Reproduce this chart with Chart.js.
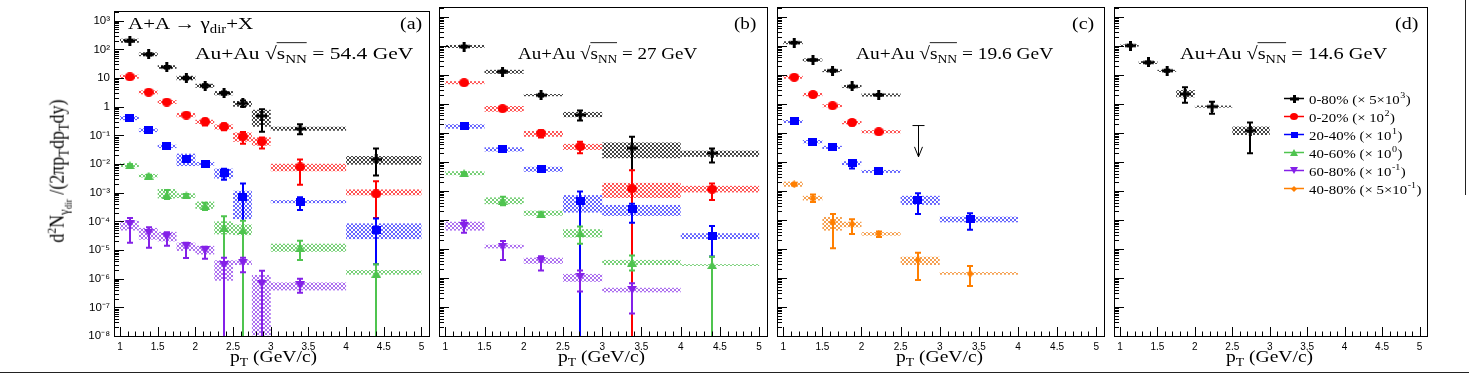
<!DOCTYPE html>
<html>
<head>
<meta charset="utf-8">
<script src="https://cdn.jsdelivr.net/npm/chart.js@4.4.1/dist/chart.umd.min.js"></script>
<style>
  html, body { margin: 0; padding: 0; background: #fff; }
  #page { position: relative; width: 1469px; height: 375px; overflow: hidden;
          font-family: "Liberation Serif", "Times New Roman", serif; color: #000; }
  canvas { position: absolute; top: 0; }
  .txt { position: absolute; white-space: nowrap; font-size: 20px; line-height: 20px;
         transform-origin: 0 16.75px; }
  .sub { font-size: 14px; position: relative; top: 5px; }
  .sub2 { font-size: 10px; position: relative; top: 3px; }
  .sup { font-size: 13px; position: relative; top: -8px; }
  .ov { border-top: 1px solid #000; }
  .ytitle { transform-origin: 50% 50%; }
  .rule { position: absolute; background: #222; }
</style>
</head>
<body>
<div id="page">
  <canvas id="chartA"></canvas>
  <canvas id="chartB"></canvas>
  <canvas id="chartC"></canvas>
  <canvas id="chartD"></canvas>

  <div class="txt" data-x="128" data-w="125" style="top:12px">A+A → γ<span class="sub">dir</span>+X</div>
  <div class="txt" data-x="400" data-w="22" style="top:12px">(a)</div>
  <div class="txt" data-x="734" data-w="22" style="top:12px">(b)</div>
  <div class="txt" data-x="1072" data-w="22" style="top:12px">(c)</div>
  <div class="txt" data-x="1395" data-w="23" style="top:12px">(d)</div>

  <div class="txt" data-x="195" data-w="218" style="top:42px">Au+Au √<span class="ov">s<span class="sub">NN</span></span> = 54.4 GeV</div>
  <div class="txt" data-x="518" data-w="179" style="top:42px">Au+Au √<span class="ov">s<span class="sub">NN</span></span> = 27 GeV</div>
  <div class="txt" data-x="856" data-w="197" style="top:42px">Au+Au √<span class="ov">s<span class="sub">NN</span></span> = 19.6 GeV</div>
  <div class="txt" data-x="1180" data-w="207" style="top:42px">Au+Au √<span class="ov">s<span class="sub">NN</span></span> = 14.6 GeV</div>

  <div class="txt" data-cx="273.5" data-w="87" style="top:345px">p<span class="sub">T</span> (GeV/c)</div>
  <div class="txt" data-cx="601" data-w="87" style="top:345px">p<span class="sub">T</span> (GeV/c)</div>
  <div class="txt" data-cx="939" data-w="87" style="top:345px">p<span class="sub">T</span> (GeV/c)</div>
  <div class="txt" data-cx="1269.5" data-w="87" style="top:345px">p<span class="sub">T</span> (GeV/c)</div>

  <div class="txt ytitle" id="ytitle">d<span class="sup">2</span>N<span class="sub">γ<span class="sub2">dir</span></span> /(2πp<span class="sub">T</span>dp<span class="sub">T</span>dy)</div>

  <div class="rule" style="left:0; top:372px; width:1469px; height:1px"></div>
  <div class="rule" style="left:1465px; top:0; width:1px; height:195px"></div>
</div>

<script>
/* --- 1. DATA --- */

// axes
const xTickValues = [1, 1.5, 2, 2.5, 3, 3.5, 4, 4.5, 5];
const xTickLabels = ["1", "1.5", "2", "2.5", "3", "3.5", "4", "4.5", "5"];
const yTickValues = [1e-8, 1e-7, 1e-6, 1e-5, 1e-4, 1e-3, 1e-2, 1e-1, 1, 10, 100, 1000];
const yTickLabels = ["10⁻⁸", "10⁻⁷", "10⁻⁶", "10⁻⁵", "10⁻⁴", "10⁻³", "10⁻²", "10⁻¹", "1", "10", "10²", "10³"];

const OFF = 1e-9; // error bar running below the frame

// (a) 54.4 GeV
const edgesA = [1, 1.25, 1.5, 1.75, 2, 2.25, 2.5, 2.75, 3, 4, 5];
const ptA = [1.13, 1.38, 1.62, 1.88, 2.13, 2.38, 2.63, 2.88, 3.39, 4.4];
const a080 = [200, 67, 24, 10, 5.4, 3.0, 1.3, 0.48, 0.17, 0.0144];
const a080Stat = [[185, 215], [61, 73], [21.5, 26.5], [9, 11.2], [4.7, 6.1], [2.6, 3.4], [1.0, 1.65], [0.135, 0.81], [0.11, 0.245], [0.004, 0.035]];
const a080Sys = [[170, 235], [58, 78], [21, 28], [8.3, 12], [4.6, 6.3], [2.5, 3.5], [1.0, 1.58], [0.2, 0.78], [0.145, 0.2], [0.0095, 0.019]];
const a020 = [11, 3.2, 1.45, 0.51, 0.30, 0.20, 0.09, 0.06, 0.0079, 9e-4];
const a020Stat = [[10, 12], [2.9, 3.5], [1.3, 1.6], [0.46, 0.57], [0.22, 0.38], [0.15, 0.26], [0.051, 0.13], [0.035, 0.085], [0.0019, 0.0145], [1.3e-4, 2.5e-3]];
const a020Sys = [[9.5, 13], [2.7, 3.7], [1.25, 1.7], [0.43, 0.6], [0.25, 0.35], [0.16, 0.24], [0.06, 0.126], [0.044, 0.085], [0.0056, 0.0102], [8.1e-4, 1.3e-3]];
const a2040 = [0.40, 0.15, 0.041, 0.015, 0.0102, 0.0047, 6.8e-4, null, 4.9e-4, 5.1e-5];
const a2040Stat = [[0.37, 0.43], [0.135, 0.165], [0.037, 0.045], [0.012, 0.018], [0.008, 0.0125], [0.0028, 0.0068], [OFF, 2.1e-3], null, [2.5e-4, 7e-4], [3.2e-6, 1.26e-4]];
const a2040Sys = [[0.34, 0.47], [0.13, 0.175], [0.036, 0.047], [0.0085, 0.023], [0.0088, 0.0118], [0.0031, 0.0069], [1.2e-4, 1.17e-3], null, [4.3e-4, 5.5e-4], [2.4e-5, 8.5e-5]];
const a4060 = [0.0091, 0.0039, 8.3e-4, 8e-4, 3.5e-4, 5.9e-5, 4.9e-5, null, 1.2e-5, 1.5e-6];
const a4060Stat = [[0.0084, 0.0098], [0.0036, 0.0042], [6e-4, 1.25e-3], [7e-4, 9e-4], [2.5e-4, 4.5e-4], [OFF, 1.5e-4], [OFF, 1.05e-4], null, [4.5e-6, 2.1e-5], [OFF, 3.2e-6]];
const a4060Sys = [[0.0078, 0.0106], [0.0034, 0.0045], [6.3e-4, 1.35e-3], [6.5e-4, 9.5e-4], [2.75e-4, 4.9e-4], [3.5e-5, 1e-4], [3.3e-5, 7.8e-5], null, [8.7e-6, 1.66e-5], [1.38e-6, 2e-6]];
const a6080 = [8.1e-5, 4e-5, 2.9e-5, 1.35e-5, 9.8e-6, 3e-6, 3.6e-6, 6.6e-7, 5.8e-7, null];
const a6080Stat = [[1.8e-5, 1.3e-4], [1.2e-5, 6.2e-5], [1.4e-5, 4.2e-5], [5.3e-6, 1.8e-5], [5e-6, 1.3e-5], [OFF, 5.4e-6], [1.66e-6, 5.4e-6], [OFF, 1.9e-6], [3.2e-7, 1e-6], null];
const a6080Sys = [[4.8e-5, 1.05e-4], [2.3e-5, 5.9e-5], [2e-5, 4.3e-5], [9.3e-6, 1.8e-5], [7e-6, 1.4e-5], [8.5e-7, 4.4e-6], [3e-6, 4.3e-6], [1.05e-8, 1.35e-6], [3.9e-7, 7.4e-7], null];

// (b) 27 GeV
const edgesB = [1, 1.5, 2, 2.5, 3, 4, 5];
const ptB = [1.24, 1.73, 2.22, 2.72, 3.38, 4.4];
const b080 = [95, 13, 2.0, 0.42, 0.030, 0.020];
const b080Stat = [[88, 102], [11.8, 14.3], [1.8, 2.25], [0.27, 0.6], [OFF, 0.074], [0.0095, 0.029]];
const b080Sys = [[85, 108], [11, 15], [1.85, 2.2], [0.35, 0.53], [0.0135, 0.047], [0.015, 0.0245]];
const b020 = [5.4, 0.69, 0.098, 0.034, 1.2e-3, 1.15e-3];
const b020Stat = [[5.0, 5.8], [0.64, 0.74], [0.07, 0.125], [0.02, 0.05], [OFF, 5.2e-3], [4.9e-4, 1.8e-3]];
const b020Sys = [[4.8, 6.1], [0.54, 0.85], [0.074, 0.117], [0.026, 0.042], [5.75e-4, 1.9e-3], [8.9e-4, 1.5e-3]];
const b2040 = [0.17, 0.027, 0.0056, 4.6e-4, 2.4e-4, 2.8e-5];
const b2040Stat = [[0.16, 0.18], [0.025, 0.029], [0.005, 0.0062], [OFF, 9.5e-4], [8.1e-5, 3.6e-4], [5.5e-6, 6.2e-5]];
const b2040Sys = [[0.14, 0.2], [0.023, 0.032], [0.0046, 0.0068], [1.8e-4, 7.2e-4], [1.38e-4, 3.3e-4], [2.2e-5, 3.5e-5]];
const b4060 = [0.0041, 4.6e-4, 1.6e-4, 3.5e-5, 3.4e-6, 2.8e-6];
const b4060Stat = [[0.0038, 0.0044], [3.2e-4, 6.3e-4], [1.4e-4, 1.85e-4], [1.5e-5, 6e-5], [1.8e-6, 6e-6], [OFF, 5.4e-6]];
const b4060Sys = [[0.0035, 0.0048], [3.5e-4, 6e-4], [1.4e-4, 2.1e-4], [2.5e-5, 4.8e-5], [2.8e-6, 4.2e-6], [2.6e-6, 3e-6]];
const b6080 = [6.2e-5, 1.2e-5, 4e-6, 1.1e-6, 3.9e-7, null];
const b6080Stat = [[3.6e-5, 9.5e-5], [4.2e-6, 1.9e-5], [1.8e-6, 5.6e-6], [3.4e-7, 1.8e-6], [6e-8, 6.6e-7], null];
const b6080Sys = [[4.3e-5, 8.7e-5], [1.05e-5, 1.4e-5], [3.1e-6, 5e-6], [7.4e-7, 1.38e-6], [3.2e-7, 4.6e-7], null];

// (c) 19.6 GeV
const edgesC = [1, 1.25, 1.5, 1.75, 2, 2.5, 3, 4];
const ptC = [1.14, 1.38, 1.63, 1.88, 2.22, 2.72, 3.39];
const c080 = [130, 33, 14, 4.0, 2.05, null, null];
const c080Stat = [[122, 138], [31, 35], [13, 15], [3.7, 4.3], [1.9, 2.2], null, null];
const c080Sys = [[115, 145], [29, 37], [12.5, 15.5], [3.6, 4.5], [1.8, 2.3], null, null];
const c020 = [8.3, 2.1, 0.87, 0.23, 0.11, null, null];
const c020Stat = [[7.8, 8.8], [1.95, 2.25], [0.8, 0.95], [0.18, 0.28], [0.1, 0.12], null, null];
const c020Sys = [[7.4, 9.3], [1.85, 2.4], [0.77, 0.98], [0.2, 0.26], [0.097, 0.125], null, null];
const c2040 = [0.25, 0.050, 0.032, 0.0091, 0.0047, 4.9e-4, 1.05e-4];
const c2040Stat = [[0.235, 0.265], [0.046, 0.054], [0.03, 0.034], [0.006, 0.011], [0.0044, 0.005], [1.6e-4, 8.3e-4], [4.6e-5, 1.7e-4]];
const c2040Sys = [[0.22, 0.28], [0.044, 0.057], [0.028, 0.036], [0.0078, 0.0106], [0.0042, 0.0053], [3.3e-4, 6.8e-4], [8.3e-5, 1.3e-4]];
const c4080 = [1.7e-3, 5.6e-4, 8.3e-5, 7.2e-5, 3.3e-5, 4.2e-6, 1.4e-6];
const c4080Stat = [[1.55e-3, 1.85e-3], [4.2e-4, 7.5e-4], [1.05e-5, 1.6e-4], [3.3e-5, 1.05e-4], [2.6e-5, 4e-5], [8.5e-7, 7.4e-6], [5.3e-7, 2.6e-6]];
const c4080Sys = [[1.4e-3, 2.1e-3], [4.7e-4, 6.8e-4], [4.3e-5, 1.27e-4], [5.6e-5, 8.7e-5], [2.9e-5, 3.8e-5], [2.8e-6, 5.4e-6], [1.3e-6, 1.6e-6]];
// 0-80% upper limit
const cLimitPt = [2.72];
const cLimitTop = [0.18];
const cLimitTip = [0.015];

// (d) 14.6 GeV
const edgesD = [1, 1.25, 1.5, 1.75, 2, 2.5, 3];
const ptD = [1.14, 1.38, 1.63, 1.87, 2.23, 2.74];
const d080 = [103, 27, 14, 2.2, 0.81, 0.12];
const d080Stat = [[97, 110], [25, 29], [13, 15], [1.1, 3.8], [0.46, 1.2], [0.02, 0.23]];
const d080Sys = [[95, 112], [24, 30], [12.8, 15], [1.7, 3.0], [0.75, 0.88], [0.085, 0.166]];

// legend
const legendKeys = ["c080", "c020", "c2040", "c4060", "c6080", "c4080"];
const legendNames = ["0-80%", "0-20%", "20-40%", "40-60%", "60-80%", "40-80%"];
const legendFactor = ["5×10", "10", "10", "10", "10", "5×10"];
const legendExp = ["3", "2", "1", "0", "-1", "-1"];

/* --- 2. LAYOUT AND STYLE --- */

const X_MIN = 0.92, X_MAX = 5.1;
const Y_MIN = 1e-8, Y_MAX = 2200;
const FRAME_TOP = 7, FRAME_BOTTOM = 336, PAGE_H = 375, PAD_R = 2;
const SQUASH = 0.88; // the figure is slightly flattened vertically

Chart.defaults.font.family = "'Liberation Sans', Arial, sans-serif";
Chart.defaults.color = "#000";

function makeMarker(shape, color, w, h) {
    const c = document.createElement("canvas");
    c.width = w;
    c.height = h;
    const g = c.getContext("2d");
    g.fillStyle = color;
    g.beginPath();
    if (shape === "cross") {
        const t = 3;
        g.rect(0, (h - t) / 2, w, t);
        g.rect((w - t) / 2, 0, t, h);
    } else if (shape === "circle") {
        g.ellipse(w / 2, h / 2, w / 2, h / 2, 0, 0, Math.PI * 2);
    } else if (shape === "square") {
        g.rect(0, 0, w, h);
    } else if (shape === "triUp") {
        g.moveTo(w / 2, 0); g.lineTo(w, h); g.lineTo(0, h);
    } else if (shape === "triDown") {
        g.moveTo(0, 0); g.lineTo(w, 0); g.lineTo(w / 2, h);
    } else if (shape === "diamond") {
        g.moveTo(w / 2, 0); g.lineTo(w, h / 2); g.lineTo(w / 2, h); g.lineTo(0, h / 2);
    }
    g.closePath();
    g.fill();
    return c;
}

// ROOT-like cross hatch
function makeHatch(color) {
    const c = document.createElement("canvas");
    c.width = 4;
    c.height = 4;
    const g = c.getContext("2d");
    g.fillStyle = color;
    for (let i = 0; i < 4; i++) {
        g.fillRect(i, i, 1, 1);
        g.fillRect(3 - i, i, 1, 1);
    }
    return c;
}

const STYLE = {
    c080:  { color: "#000000", hatch: "#444444", shape: "cross",   size: [11, 10], lsize: [9, 8] },
    c020:  { color: "#ff0000", hatch: "#ff5555", shape: "circle",  size: [10, 9],  lsize: [8, 7] },
    c2040: { color: "#0000ff", hatch: "#6666ff", shape: "square",  size: [9, 8],   lsize: [7, 6] },
    c4060: { color: "#4fc44f", hatch: "#77d077", shape: "triUp",   size: [10, 8],  lsize: [8, 7] },
    c6080: { color: "#8420e8", hatch: "#ad70f0", shape: "triDown", size: [10, 8],  lsize: [8, 7] },
    c4080: { color: "#ff7f00", hatch: "#f5a050", shape: "diamond", size: [7, 8],   lsize: [6, 6] }
};
Object.values(STYLE).forEach(st => {
    st.marker = makeMarker(st.shape, st.color, st.size[0], st.size[1]);
    st.legendMarker = makeMarker(st.shape, st.color, st.lsize[0], st.lsize[1]);
    st.hatchTile = makeHatch(st.hatch);
});

/* --- 3. PLUGINS --- */

// systematic boxes + statistical bars
const errorBars = {
    id: "errorBars",
    beforeDatasetsDraw(chart) {
        const { ctx, chartArea: a, scales: { x, y } } = chart;
        ctx.save();
        ctx.beginPath();
        ctx.rect(a.left, a.top, a.width, a.height);
        ctx.clip();

        chart.data.datasets.forEach(ds => {
            const e = ds.errs;
            ctx.fillStyle = ctx.createPattern(ds.hatchTile, "repeat");
            e.sys.forEach((s, i) => {
                if (!s) return;
                const x0 = x.getPixelForValue(e.edges[i]);
                const x1 = x.getPixelForValue(e.edges[i + 1]);
                const y0 = y.getPixelForValue(s[1]);
                const y1 = y.getPixelForValue(s[0]);
                ctx.fillRect(x0, y0, x1 - x0, y1 - y0);
            });
        });

        ctx.lineWidth = 2;
        chart.data.datasets.forEach(ds => {
            const e = ds.errs;
            ctx.strokeStyle = ds.borderColor;
            e.stat.forEach((s, i) => {
                if (!s) return;
                const px = Math.round(x.getPixelForValue(e.pts[i]));
                const yHi = y.getPixelForValue(s[1]);
                const yLo = y.getPixelForValue(s[0]);
                ctx.beginPath();
                ctx.moveTo(px, yHi);
                ctx.lineTo(px, yLo);
                ctx.moveTo(px - 3, yHi);
                ctx.lineTo(px + 3, yHi);
                if (yLo < a.bottom) {
                    ctx.moveTo(px - 3, yLo);
                    ctx.lineTo(px + 3, yLo);
                }
                ctx.stroke();
            });
        });
        ctx.restore();
    }
};

// frame and inward ticks
const frameTicks = {
    id: "frameTicks",
    afterDatasetsDraw(chart) {
        const { ctx, chartArea: a, scales: { x, y } } = chart;
        ctx.save();
        ctx.strokeStyle = "#000";
        ctx.lineWidth = 1;
        ctx.beginPath();
        for (let t = 10; t <= 50; t++) {
            const len = t % 5 === 0 ? 9 : 4.5;
            const px = Math.round(x.getPixelForValue(t / 10)) + 0.5;
            ctx.moveTo(px, a.bottom);
            ctx.lineTo(px, a.bottom - len);
        }
        for (let e = -8; e <= 3; e++) {
            for (let m = 1; m <= 9; m++) {
                const v = m * Math.pow(10, e);
                if (v > Y_MAX) break;
                const len = m === 1 ? 10 : 5;
                const py = Math.round(y.getPixelForValue(v)) + 0.5;
                ctx.moveTo(a.left, py);
                ctx.lineTo(a.left + len, py);
            }
        }
        ctx.stroke();
        ctx.strokeRect(Math.round(a.left) + 0.5, Math.round(a.top) + 0.5,
                       Math.round(a.width), Math.round(a.height));
        ctx.restore();
    }
};

// upper limit arrow, panel (c)
const upperLimits = {
    id: "upperLimits",
    afterDatasetsDraw(chart) {
        const { ctx, scales: { x, y } } = chart;
        ctx.save();
        ctx.strokeStyle = "#000";
        ctx.lineWidth = 1;
        cLimitPt.forEach((pt, i) => {
            const px = Math.round(x.getPixelForValue(pt)) + 0.5;
            const top = y.getPixelForValue(cLimitTop[i]);
            const tip = y.getPixelForValue(cLimitTip[i]);
            ctx.beginPath();
            ctx.moveTo(px - 6, top); ctx.lineTo(px + 6, top);
            ctx.moveTo(px, top); ctx.lineTo(px, tip);
            ctx.moveTo(px - 4, tip - 10); ctx.lineTo(px, tip); ctx.lineTo(px + 4, tip - 10);
            ctx.stroke();
        });
        ctx.restore();
    }
};

// legend box, panel (d)
const LEGEND_TEXT_W = 103; // width of the first row's text in the figure
const rootLegend = {
    id: "rootLegend",
    afterDraw(chart) {
        const { ctx, chartArea: a } = chart;
        ctx.save();

        // pick a font size so the first row has the figure's width
        ctx.font = "15px 'Liberation Serif'";
        const w15 = ctx.measureText(legendNames[0] + " (× " + legendFactor[0]).width;
        ctx.font = "10px 'Liberation Serif'";
        const e15 = ctx.measureText(legendExp[0] + ")").width + 4;
        const fs = 15 * LEGEND_TEXT_W / (w15 + e15);

        legendNames.forEach((name, i) => {
            const st = STYLE[legendKeys[i]];
            const x0 = a.left + 170;
            const yRow = Math.round(a.top + 91 + i * 18) + 0.5;
            ctx.strokeStyle = st.color;
            ctx.lineWidth = 1.5;
            ctx.beginPath();
            ctx.moveTo(x0, yRow);
            ctx.lineTo(x0 + 20, yRow);
            ctx.stroke();
            const m = st.legendMarker;
            ctx.drawImage(m, Math.round(x0 + 10 - m.width / 2), Math.round(yRow - m.height / 2));

            ctx.save();
            ctx.translate(x0 + 25, yRow + 5);
            ctx.scale(1, SQUASH);
            ctx.fillStyle = "#000";
            ctx.textBaseline = "alphabetic";
            let tx = 0;
            const main = name + " (× " + legendFactor[i];
            ctx.font = fs + "px 'Liberation Serif'";
            ctx.fillText(main, tx, 0);
            tx += ctx.measureText(main).width;
            ctx.font = (fs * 0.68) + "px 'Liberation Serif'";
            ctx.fillText(legendExp[i], tx + 0.5, -fs * 0.45);
            tx += ctx.measureText(legendExp[i]).width + 1;
            ctx.font = fs + "px 'Liberation Serif'";
            ctx.fillText(")", tx, 0);
            ctx.restore();
        });
        ctx.restore();
    }
};

/* --- 4. PANELS --- */

const panels = [
    { id: "chartA", left: 114, right: 433, showY: true, edges: edgesA, pts: ptA, extra: [],
      series: [["c080", a080, a080Stat, a080Sys], ["c020", a020, a020Stat, a020Sys],
               ["c2040", a2040, a2040Stat, a2040Sys], ["c4060", a4060, a4060Stat, a4060Sys],
               ["c6080", a6080, a6080Stat, a6080Sys]] },
    { id: "chartB", left: 433, right: 771, showY: false, edges: edgesB, pts: ptB, extra: [],
      series: [["c080", b080, b080Stat, b080Sys], ["c020", b020, b020Stat, b020Sys],
               ["c2040", b2040, b2040Stat, b2040Sys], ["c4060", b4060, b4060Stat, b4060Sys],
               ["c6080", b6080, b6080Stat, b6080Sys]] },
    { id: "chartC", left: 771, right: 1108, showY: false, edges: edgesC, pts: ptC, extra: [upperLimits],
      series: [["c080", c080, c080Stat, c080Sys], ["c020", c020, c020Stat, c020Sys],
               ["c2040", c2040, c2040Stat, c2040Sys], ["c4080", c4080, c4080Stat, c4080Sys]] },
    { id: "chartD", left: 1108, right: 1431, showY: false, edges: edgesD, pts: ptD, extra: [rootLegend],
      series: [["c080", d080, d080Stat, d080Sys]] }
];

function buildPanel(p) {
    const canvas = document.getElementById(p.id);
    const padL = p.showY ? p.left : 0;
    const canvasLeft = p.left - padL;
    canvas.style.left = canvasLeft + "px";
    canvas.width = p.right - canvasLeft + PAD_R;
    canvas.height = PAGE_H;

    const datasets = p.series.map(([key, values, stat, sys]) => {
        const st = STYLE[key];
        return {
            label: key,
            data: p.pts.map((x, i) => ({ x, y: values[i] })).filter(d => d.y !== null),
            pointStyle: st.marker,
            pointRadius: 5,
            borderColor: st.color,
            backgroundColor: st.color,
            showLine: false,
            hatchTile: st.hatchTile,
            errs: { pts: p.pts, edges: p.edges, stat, sys }
        };
    });

    return new Chart(canvas, {
        type: "scatter",
        data: { datasets },
        options: {
            responsive: false,
            animation: false,
            events: [],
            layout: { padding: { top: FRAME_TOP, right: PAD_R, left: 0, bottom: 0 } },
            plugins: { legend: { display: false }, tooltip: { enabled: false } },
            scales: {
                x: {
                    type: "linear",
                    min: X_MIN,
                    max: X_MAX,
                    grid: { display: false, drawTicks: false },
                    border: { display: false },
                    afterBuildTicks: s => { s.ticks = xTickValues.map(v => ({ value: v })); },
                    afterFit: s => { s.height = PAGE_H - FRAME_BOTTOM; },
                    ticks: {
                        font: { size: 10 },
                        padding: 5,
                        maxRotation: 0,
                        autoSkip: false,
                        callback: (v, i) => xTickLabels[i]
                    }
                },
                y: {
                    type: "logarithmic",
                    display: p.showY,
                    min: Y_MIN,
                    max: Y_MAX,
                    grid: { display: false, drawTicks: false },
                    border: { display: false },
                    afterBuildTicks: s => { s.ticks = yTickValues.map(v => ({ value: v })); },
                    afterFit: s => { s.width = padL; },
                    ticks: {
                        font: { size: 11.5 },
                        padding: 4,
                        autoSkip: false,
                        callback: (v, i) => yTickLabels[i]
                    }
                }
            }
        },
        plugins: [errorBars, frameTicks].concat(p.extra)
    });
}

panels.forEach(buildPanel);

/* --- 5. TEXT FITTING (widths) --- */

document.querySelectorAll(".txt[data-w]").forEach(el => {
    const target = Number(el.dataset.w);
    const sx = target / el.offsetWidth;
    const left = el.dataset.cx ? Number(el.dataset.cx) - target / 2 : Number(el.dataset.x);
    el.style.left = left + "px";
    el.style.transform = `scale(${sx}, ${SQUASH})`;
});

// rotated y title: centre (58, 171), length 143
const yTitle = document.getElementById("ytitle");
const ySx = 143 / yTitle.offsetWidth;
yTitle.style.left = (58 - yTitle.offsetWidth / 2) + "px";
yTitle.style.top = (171 - yTitle.offsetHeight / 2) + "px";
yTitle.style.transform = `rotate(-90deg) scaleX(${ySx})`;
</script>
</body>
</html>
